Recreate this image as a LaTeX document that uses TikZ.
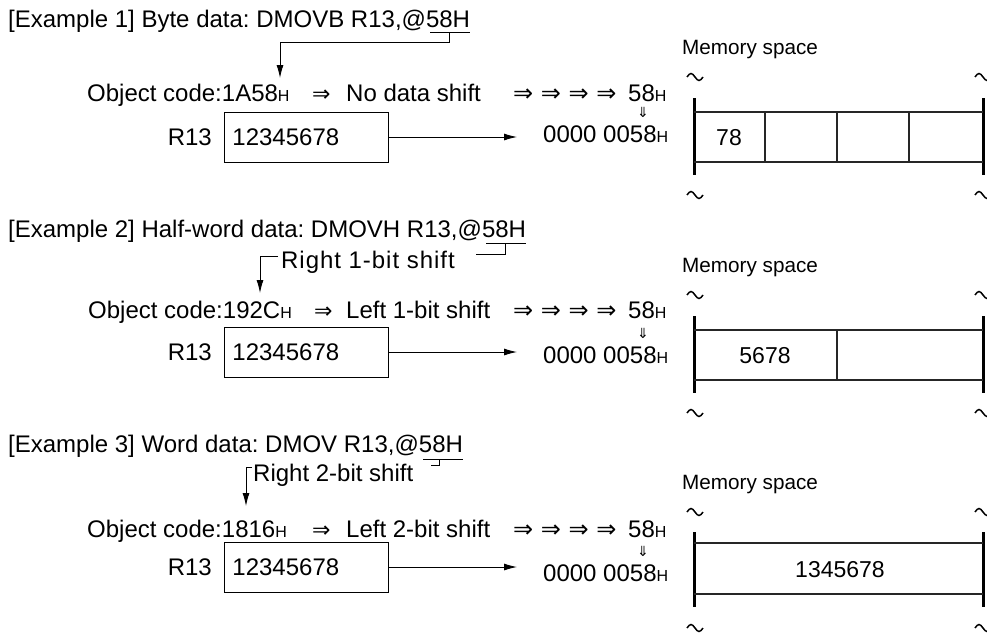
\documentclass[tikz,border=0pt]{standalone}
\usepackage{fontspec}
\setmainfont{Liberation Sans}
\newfontfamily\symf{DejaVu Sans}
\usetikzlibrary{arrows.meta,calc}
\newcommand{\mainsz}{\fontsize{24}{28}\selectfont\frenchspacing}
\newcommand{\hs}{{\fontsize{16}{16}\selectfont H}}
\tikzset{
  txt/.style={anchor=base west, inner sep=0, font=\mainsz},
  memtxt/.style={anchor=base west, inner sep=0, font=\fontsize{20.7}{24}\selectfont},
  arrs/.style={anchor=base west, inner sep=0, font=\symf\fontsize{24}{28}\selectfont},
  sarr/.style={anchor=base west, inner sep=0, font=\symf\fontsize{22}{24}\selectfont},
  darr/.style={anchor=center, inner sep=0, font=\symf\fontsize{14}{14}\selectfont},
  regbox/.style={draw, line width=0.9, anchor=west, text width=148, inner xsep=8, inner ysep=0, minimum height=50, align=left, font=\mainsz},
  celltxt/.style={inner sep=0, font=\fontsize{23}{26}\selectfont},
  conn/.style={line width=0.9},
  arrline/.style={line width=0.9, -{Latex[length=13pt,width=7pt]}},
  membar/.style={line width=3},
  memline/.style={line width=1.3, black!85},
  tild/.style={line width=1.5},
}
\newcommand{\tld}[2]{\draw[tild] (#1-8,#2) sin (#1-4,#2-3.5) cos (#1,#2) sin (#1+4,#2+3.5) cos (#1+8,#2);}
\begin{document}
\begin{tikzpicture}[x=1pt,y=-1pt]
\useasboundingbox (0,0) rectangle (987,635);

% ---------------- Example 1
\node[txt] (t1) at (8,27) {[Example 1] Byte data: DMOVB R13,@58H};
\coordinate (u1b) at ($(t1.base east)+(0,5)$);
\coordinate (u1a) at ($(u1b)+(-40,0)$);
\coordinate (u1m) at ($(u1b)+(-21,0)$);
\coordinate (u1d) at ($(u1m)+(0,10)$);
\coordinate (u1l) at (280,42); \coordinate (u1e) at (280,78);
\draw[conn] (u1a) -- (u1b);
\draw[conn] (u1m) -- (u1d) -- (u1l);
\draw[arrline] (u1l) -- (u1e);
\node[txt] (oc1) at (87,101) {Object code:1A58\hs};
\node[sarr] (ar1) at (312,101) {⇒};
\node[txt] (sh1) at (346,101) {No data shift};
\node[arrs] (aa1) at (513,101) {⇒ ⇒ ⇒ ⇒};
\node[txt] (v1) at (628,101) {58\hs};
\node[darr] (dd1) at (643,112) {⇓};
\node[txt, anchor=base east] (rl1) at (212,145) {R13};
\node[regbox] (b1) at (224,137) {12345678};
\coordinate (e1) at (517,137);
\draw[arrline] (b1.east) -- (e1);
\node[txt] (res1) at (543,142) {0000 0058\hs};
\node[memtxt] (ms1) at (682,54) {Memory space};
\tld{695}{77} \tld{983}{77} \tld{695}{195} \tld{983}{195}
\draw[membar] (694,98) -- (694,175);
\draw[membar] (983,98) -- (983,175);
\draw[memline] (694,112) -- (983,112);
\draw[memline] (694,162) -- (983,162);
\draw[memline] (765,112) -- (765,162);
\draw[memline] (837,112) -- (837,162);
\draw[memline] (909,112) -- (909,162);
\node[celltxt] (m1) at (729,138) {78};

% ---------------- Example 2
\node[txt] (t2) at (8,237) {[Example 2] Half-word data: DMOVH R13,@58H};
\coordinate (u2b) at ($(t2.base east)+(0,6)$);
\coordinate (u2a) at ($(u2b)+(-40,0)$);
\coordinate (u2m) at ($(u2b)+(-21,0)$);
\coordinate (u2d) at ($(u2m)+(0,11)$);
\coordinate (u2r) at ($(u2d)+(-29,0)$);
\draw[conn] (u2a) -- (u2b);
\draw[conn] (u2m) -- (u2d) -- (u2r);
\node[txt] (rs2) at (281,268) {\addfontfeature{LetterSpace=4}Right 1-bit shift};
\coordinate (u2s) at (278,256); \coordinate (u2l) at (260,256); \coordinate (u2e) at (260,293);
\draw[conn] (u2s) -- (u2l);
\draw[arrline] (u2l) -- (u2e);
\node[txt] (oc2) at (88,318) {Object code:192C\hs};
\node[sarr] (ar2) at (314,318) {⇒};
\node[txt] (sh2) at (346,318) {Left 1-bit shift};
\node[arrs] (aa2) at (513,318) {⇒ ⇒ ⇒ ⇒};
\node[txt] (v2) at (628,318) {58\hs};
\node[darr] (dd2) at (643,333) {⇓};
\node[txt, anchor=base east] (rl2) at (212,360) {R13};
\node[regbox] (b2) at (224,352) {12345678};
\coordinate (e2) at (517,352);
\draw[arrline] (b2.east) -- (e2);
\node[txt] (res2) at (543,363) {0000 0058\hs};
\node[memtxt] (ms2) at (682,272) {Memory space};
\tld{695}{295} \tld{983}{295} \tld{695}{413} \tld{983}{413}
\draw[membar] (694,316) -- (694,393);
\draw[membar] (983,316) -- (983,393);
\draw[memline] (694,330) -- (983,330);
\draw[memline] (694,380) -- (983,380);
\draw[memline] (837,330) -- (837,380);
\node[celltxt] (m2) at (765,356) {5678};

% ---------------- Example 3
\node[txt] (t3) at (8,452) {[Example 3] Word data: DMOV R13,@58H};
\coordinate (u3b) at ($(t3.base east)+(0,7)$);
\coordinate (u3a) at ($(u3b)+(-40,0)$);
\coordinate (u3m) at ($(u3b)+(-24,0)$);
\coordinate (u3d) at ($(u3m)+(0,6)$);
\coordinate (u3r) at ($(u3d)+(-8,0)$);
\draw[conn] (u3a) -- (u3b);
\draw[conn] (u3m) -- (u3d) -- (u3r);
\node[txt] (rs3) at (253,481) {Right 2-bit shift};
\coordinate (u3s) at (252,467); \coordinate (u3l) at (246,467); \coordinate (u3e) at (246,506);
\draw[conn] (u3s) -- (u3l);
\draw[arrline] (u3l) -- (u3e);
\node[txt] (oc3) at (87,537) {Object code:1816\hs};
\node[sarr] (ar3) at (312,537) {⇒};
\node[txt] (sh3) at (346,537) {Left 2-bit shift};
\node[arrs] (aa3) at (513,537) {⇒ ⇒ ⇒ ⇒};
\node[txt] (v3) at (628,537) {58\hs};
\node[darr] (dd3) at (643,551) {⇓};
\node[txt, anchor=base east] (rl3) at (212,575) {R13};
\node[regbox] (b3) at (224,567) {12345678};
\coordinate (e3) at (517,567);
\draw[arrline] (b3.east) -- (e3);
\node[txt] (res3) at (543,581) {0000 0058\hs};
\node[memtxt] (ms3) at (682,489) {Memory space};
\tld{695}{512} \tld{983}{512} \tld{695}{628} \tld{983}{628}
\draw[membar] (694,532) -- (694,607);
\draw[membar] (983,532) -- (983,607);
\draw[memline] (694,543) -- (983,543);
\draw[memline] (694,594) -- (983,594);
\node[celltxt] (m3) at (840,570) {1345678};
\end{tikzpicture}
\end{document}
